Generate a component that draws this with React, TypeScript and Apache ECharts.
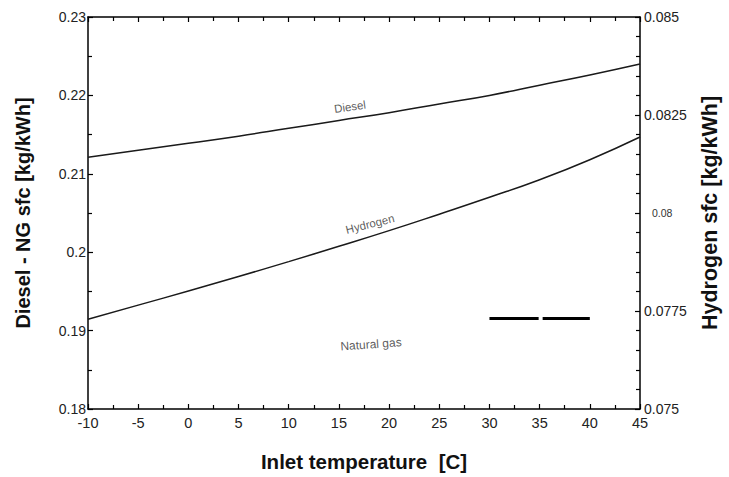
import React, { useEffect, useRef } from "react";
import * as echarts from "echarts";

const temps = [-10, -5, 0, 5, 10, 15, 20, 25, 30, 35, 40, 45];
const diesel = [0.2121, 0.213, 0.2139, 0.2148, 0.2158, 0.2168, 0.2178, 0.2189, 0.22, 0.2213, 0.2226, 0.224];
const hydrogen = [0.07729, 0.07765, 0.07801, 0.07838, 0.07876, 0.07915, 0.07955, 0.07997, 0.0804, 0.08085, 0.08136, 0.08194];
const natGasSegA = [[30, 0.19155], [34.9, 0.19155]];
const natGasSegB = [[35.3, 0.19155], [40, 0.19155]];
const curveLabels = [
  { name: "Diesel", value: [16.1, 0.21855], rotate: 8, size: 11.5 },
  { name: "Hydrogen", value: [18.1, 0.2036], rotate: 14, size: 11.5 },
  { name: "Natural gas", value: [18.2, 0.18825], rotate: 4, size: 12 },
];
const leftTicks = [0.18, 0.19, 0.2, 0.21, 0.22, 0.23];
const rightTicks = [0.075, 0.0775, 0.08, 0.0825, 0.085];

export default function App() {
  const ref = useRef<HTMLDivElement>(null);
  useEffect(() => {
    if (!ref.current) return;
    const chart = echarts.init(ref.current, undefined, { renderer: "svg" });
    const axisLine = { show: true, onZero: false, lineStyle: { color: "#000", width: 1.5 } };
    const tick = { show: true, inside: true, length: 5, lineStyle: { color: "#000", width: 1.2 } };
    const minor = (n: number) => ({ show: true, splitNumber: n, length: 4, lineStyle: { color: "#000", width: 1.2 } });
    chart.setOption({
      animation: false,
      backgroundColor: "#fff",
      grid: { left: 88, top: 17, right: 83, bottom: 66 },
      xAxis: [
        {
          type: "value",
          min: -10,
          max: 45,
          interval: 5,
          position: "bottom",
          axisLine,
          axisTick: tick,
          minorTick: minor(2),
          splitLine: { show: false },
          axisLabel: {
            margin: 6,
            fontFamily: "Liberation Sans, Arial, sans-serif",
            fontSize: 14.5,
            color: "#222",
          },
          name: "Inlet temperature  [C]",
          nameLocation: "middle",
          nameGap: 42,
          nameTextStyle: {
            fontFamily: "Liberation Sans, Arial, sans-serif",
            fontWeight: "bold",
            fontSize: 20.5,
            color: "#111",
          },
        },
        {
          type: "value",
          min: -10,
          max: 45,
          interval: 5,
          position: "top",
          axisLine,
          axisTick: tick,
          minorTick: minor(2),
          splitLine: { show: false },
          axisLabel: { show: false },
        },
      ],
      yAxis: [
        {
          type: "value",
          min: 0.18,
          max: 0.23,
          interval: 0.01,
          position: "left",
          axisLine,
          axisTick: tick,
          minorTick: minor(2),
          splitLine: { show: false },
          axisLabel: {
            margin: 2,
            fontFamily: "Liberation Sans, Arial, sans-serif",
            fontSize: 14,
            color: "#222",
            formatter: (v: number) => {
              const m = leftTicks.find((t) => Math.abs(t - v) < 1e-9);
              return m === undefined ? "" : String(m);
            },
          },
          name: "Diesel - NG sfc [kg/kWh]",
          nameLocation: "middle",
          nameGap: 55,
          nameTextStyle: {
            fontFamily: "Liberation Sans, Arial, sans-serif",
            fontWeight: "bold",
            fontSize: 20,
            color: "#111",
          },
        },
        {
          type: "value",
          min: 0.075,
          max: 0.085,
          interval: 0.0025,
          position: "right",
          axisLine,
          axisTick: tick,
          minorTick: minor(5),
          splitLine: { show: false },
          axisLabel: {
            margin: 4,
            fontFamily: "Liberation Sans, Arial, sans-serif",
            fontSize: 14,
            color: "#222",
            formatter: (v: number) => {
              const m = rightTicks.find((t) => Math.abs(t - v) < 1e-9);
              if (m === undefined) return "";
              if (m === 0.08) return "{s|0.08}";
              return String(m);
            },
            rich: {
              s: {
                fontSize: 10.5,
                fontFamily: "Liberation Sans, Arial, sans-serif",
                color: "#333",
                padding: [0, 0, 0, 8],
              },
            },
          },
          name: "Hydrogen sfc [kg/kWh]",
          nameLocation: "middle",
          nameGap: 59,
          nameTextStyle: {
            fontFamily: "Liberation Sans, Arial, sans-serif",
            fontWeight: "bold",
            fontSize: 21.5,
            color: "#111",
          },
        },
      ],
      series: [
        {
          type: "line",
          name: "Diesel",
          yAxisIndex: 0,
          data: temps.map((t, i) => [t, diesel[i]]),
          smooth: true,
          symbol: "none",
          lineStyle: { color: "#1a1a1a", width: 1.5 },
        },
        {
          type: "line",
          name: "Hydrogen",
          yAxisIndex: 1,
          data: temps.map((t, i) => [t, hydrogen[i]]),
          smooth: true,
          symbol: "none",
          lineStyle: { color: "#1a1a1a", width: 1.5 },
        },
        {
          type: "line",
          name: "Natural gas A",
          yAxisIndex: 0,
          data: natGasSegA,
          symbol: "none",
          lineStyle: { color: "#000", width: 3 },
        },
        {
          type: "line",
          name: "Natural gas B",
          yAxisIndex: 0,
          data: natGasSegB,
          symbol: "none",
          lineStyle: { color: "#000", width: 3 },
        },
        {
          type: "scatter",
          yAxisIndex: 0,
          symbolSize: 0,
          silent: true,
          data: curveLabels.map((l) => ({
            name: l.name,
            value: l.value,
            label: { rotate: l.rotate, fontSize: l.size },
          })),
          label: {
            show: true,
            position: "inside",
            formatter: "{b}",
            color: "#333",
            fontFamily: "Liberation Sans, Arial, sans-serif",
          },
        },
      ],
    });
    return () => chart.dispose();
  }, []);
  return <div ref={ref} style={{ position: "absolute", left: 0, top: 0, width: 729, height: 477 }} />;
}
